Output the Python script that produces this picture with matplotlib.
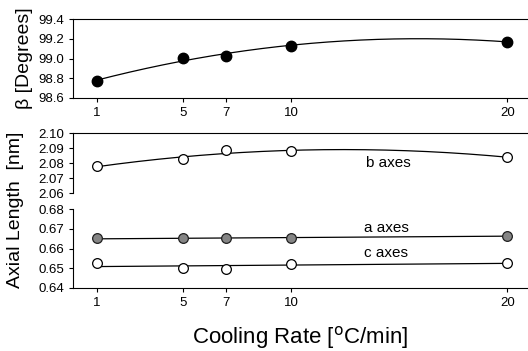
import numpy as np
import matplotlib.pyplot as plt

plt.rcParams['font.family'] = ['Liberation Sans', 'DejaVu Sans']

# cooling rates (°C/min)
rates = [1, 5, 7, 10, 20]

# monoclinic angle
beta = [98.77, 99.01, 99.03, 99.13, 99.17]

# axial lengths (nm)
b_len = [2.0778, 2.0824, 2.0885, 2.0878, 2.0839]
a_len = [0.6652, 0.6652, 0.6652, 0.6651, 0.6665]
c_len = [0.6525, 0.6500, 0.6498, 0.6523, 0.6529]

XLIM = (-0.1, 20.95)
TICK_FS = 9.5


def fit_curve(x, y, deg):
    coef = np.polyfit(x, y, deg)
    xs = np.linspace(min(x), max(x), 200)
    return xs, np.polyval(coef, xs)


def style_axes(ax, top=True, bottom=True):
    ax.spines['right'].set_visible(False)
    ax.spines['top'].set_visible(top)
    ax.spines['bottom'].set_visible(bottom)
    ax.set_xlim(*XLIM)
    ax.tick_params(direction='out', length=3, width=0.8, labelsize=TICK_FS)


fig = plt.figure(figsize=(5.28, 3.51), dpi=100)
h = fig.bbox.height

ax_beta = fig.add_axes([0.138, 0.7208, 0.862, 0.225])
ax_b = fig.add_axes([0.138, 0.450, 0.862, 0.171])
ax_ac = fig.add_axes([0.138, 0.1795, 0.862, 0.225])

# beta panel
xs, ys = fit_curve(rates, beta, 2)
ax_beta.plot(xs, ys, color='black', lw=0.9)
ax_beta.plot(rates, beta, 'o', color='black', ms=7.5, zorder=3)
ax_beta.set_ylim(98.6, 99.4)
ax_beta.set_yticks([98.6, 98.8, 99.0, 99.2, 99.4])
ax_beta.set_yticklabels(['98.6', '98.8', '99.0', '99.2', '99.4'])
ax_beta.set_xticks(rates)
style_axes(ax_beta)
ax_beta.set_ylabel('β [Degrees]', fontsize=14, labelpad=4)

# b axes (upper half of broken axis)
xs, ys = fit_curve(rates, b_len, 2)
ax_b.plot(xs, ys, color='black', lw=0.9)
ax_b.plot(rates, b_len, 'o', mfc='white', mec='black', ms=7, mew=0.9, zorder=3)
ax_b.set_ylim(2.06, 2.10)
ax_b.set_yticks([2.06, 2.07, 2.08, 2.09, 2.10])
ax_b.set_yticklabels(['2.06', '2.07', '2.08', '2.09', '2.10'])
ax_b.set_xticks([])
style_axes(ax_b, bottom=False)
ax_b.text(388, h - 163, 'b axes', transform=None, fontsize=11,
          ha='center', va='center')

# a and c axes (lower half)
xs, ys = fit_curve(rates, a_len, 1)
ax_ac.plot(xs, ys, color='black', lw=0.9)
ax_ac.plot(rates, a_len, 'o', mfc='#858585', mec='#202020', ms=7, mew=0.9, zorder=3)
xs, ys = fit_curve(rates, c_len, 1)
ax_ac.plot(xs, ys, color='black', lw=0.9)
ax_ac.plot(rates, c_len, 'o', mfc='white', mec='black', ms=7, mew=0.9, zorder=3)
ax_ac.set_ylim(0.64, 0.68)
ax_ac.set_yticks([0.64, 0.65, 0.66, 0.67, 0.68])
ax_ac.set_yticklabels(['0.64', '0.65', '0.66', '0.67', '0.68'])
ax_ac.set_xticks(rates)
style_axes(ax_ac, top=False)
ax_ac.set_xlabel('Cooling Rate [$^{\\rm o}$C/min]', fontsize=16, labelpad=11)

ax_ac.text(386, h - 228, 'a axes', transform=None, fontsize=11,
           ha='center', va='center')
ax_ac.text(386, h - 253, 'c axes', transform=None, fontsize=11,
           ha='center', va='center')

fig.text(0.03, 1 - 210 / 351, 'Axial Length  [nm]', rotation=90,
         fontsize=14, ha='center', va='center')

fig.savefig('out.png', dpi=100)
